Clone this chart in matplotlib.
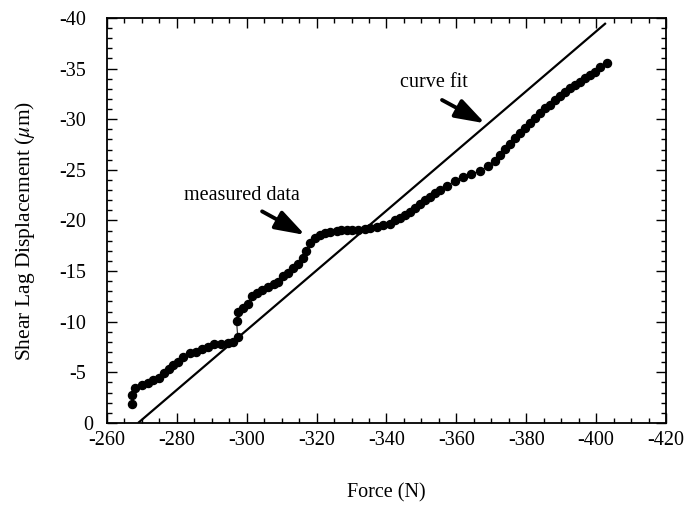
import matplotlib
matplotlib.use("Agg")
import matplotlib.pyplot as plt
from matplotlib.ticker import MultipleLocator, FuncFormatter
from matplotlib.transforms import ScaledTranslation

# measured data (Force in N, displacement in um)
force = [-267.1, -267.3, -268.0, -269.9, -271.8, -273.3, -275.0, -276.4, -277.8,
         -279.0, -280.4, -281.8, -283.7, -285.4, -287.3, -289.0, -290.7, -292.6,
         -294.5, -296.0, -297.4, -297.1, -297.6, -299.0, -300.4, -301.4, -302.8,
         -304.5, -306.2, -307.8, -309.0, -310.4, -311.9, -313.3, -314.7, -316.2,
         -317.1, -318.1, -319.5, -320.9, -322.4, -323.8, -325.7, -327.1, -328.6,
         -330.0, -331.9, -333.8, -335.3, -337.2, -339.1, -341.0, -342.4, -343.9,
         -345.3, -346.7, -348.2, -349.6, -351.0, -352.4, -353.9, -355.3, -357.2,
         -359.6, -362.0, -364.3, -366.8, -369.1, -371.0, -372.5, -373.9, -375.3,
         -376.8, -378.2, -379.6, -381.1, -382.5, -383.9, -385.4, -386.8, -388.2,
         -389.7, -391.1, -392.5, -394.0, -395.4, -396.8, -398.2, -399.7, -401.1,
         -403.0]
disp = [-1.84, -2.77, -3.45, -3.75, -3.92, -4.25, -4.48, -4.97, -5.33,
        -5.70, -6.06, -6.55, -6.88, -6.98, -7.28, -7.54, -7.77, -7.77,
        -7.93, -8.03, -8.46, -10.1, -11.0, -11.4, -11.8, -12.5, -12.8,
        -13.1, -13.4, -13.7, -13.9, -14.5, -14.8, -15.3, -15.7, -16.3,
        -17.0, -17.8, -18.3, -18.6, -18.8, -18.9, -19.0, -19.06, -19.1,
        -19.1, -19.1, -19.2, -19.3, -19.4, -19.56, -19.7, -20.0, -20.2,
        -20.5, -20.8, -21.2, -21.6, -22.0, -22.3, -22.7, -23.0, -23.4,
        -23.9, -24.3, -24.6, -24.9, -25.4, -25.9, -26.5, -27.1, -27.6,
        -28.1, -28.6, -29.1, -29.6, -30.1, -30.6, -31.1, -31.4, -31.9,
        -32.3, -32.7, -33.1, -33.4, -33.7, -34.1, -34.4, -34.7, -35.2,
        -35.6]

# curve fit endpoints
fit_force = [-268.9, -402.8]
fit_disp = [0.0, -39.5]

x_ticks = [-260, -280, -300, -320, -340, -360, -380, -400, -420]
y_ticks = [0, -5, -10, -15, -20, -25, -30, -35, -40]

plt.rcParams['font.family'] = ['Liberation Serif', 'DejaVu Serif']
plt.rcParams['axes.unicode_minus'] = False
plt.rcParams['mathtext.fontset'] = 'stix'

fig = plt.figure(figsize=(6.88, 5.05), dpi=100)
ax = fig.add_axes([0.1555, 0.1624, 0.968 - 0.1555, 0.9644 - 0.1624])

ax.plot(fit_force, fit_disp, color='black', lw=1.6, solid_capstyle='butt')
ax.plot(force, disp, color='black', lw=0.7, marker='o', markersize=5.8,
        markerfacecolor='black', markeredgecolor='black')

ax.set_xlim(-260, -420)
ax.set_ylim(0, -40)
ax.set_xticks(x_ticks)
ax.set_yticks(y_ticks)
ax.xaxis.set_minor_locator(MultipleLocator(5))
ax.yaxis.set_minor_locator(MultipleLocator(1))
fmt = FuncFormatter(lambda v, p: "%d" % v)
ax.xaxis.set_major_formatter(fmt)
ax.yaxis.set_major_formatter(fmt)

ax.tick_params(which='both', direction='in', top=True, right=True,
               labelsize=14.5, width=1.0)
ax.tick_params(which='major', length=7)
ax.tick_params(which='minor', length=3.5)
ax.tick_params(axis='x', which='major', pad=6)
ax.tick_params(axis='y', which='major', pad=15)
for s in ax.spines.values():
    s.set_linewidth(1.3)

# the "0" label sits further right in the reference
fig.canvas.draw()
for t in ax.yaxis.get_major_ticks():
    if abs(t.get_loc()) < 1e-9:
        t.label1.set_transform(t.label1.get_transform() +
                               ScaledTranslation(7 / 100, 0, fig.dpi_scale_trans))

ax.set_xlabel('Force (N)', fontsize=14.5, labelpad=24)
ax.set_ylabel(r'Shear Lag Displacement ($\mu$m)', fontsize=15.5)
ax.yaxis.set_label_coords(-0.126, 0.474)

arrow = dict(arrowstyle='-|>,head_length=0.9,head_width=0.3', mutation_scale=20,
             color='black', lw=2.8, shrinkA=0, shrinkB=0)
ax.annotate('measured data', xy=(-298.6, -22.5), fontsize=14.5,
            ha='center', va='center')
ax.annotate('', xy=(-316.7, -18.57), xytext=(-304.4, -20.9), arrowprops=arrow)
ax.annotate('curve fit', xy=(-353.6, -33.6), fontsize=14.5,
            ha='center', va='center')
ax.annotate('', xy=(-368.2, -29.6), xytext=(-355.9, -31.9), arrowprops=arrow)

fig.savefig('out.png', dpi=100)
